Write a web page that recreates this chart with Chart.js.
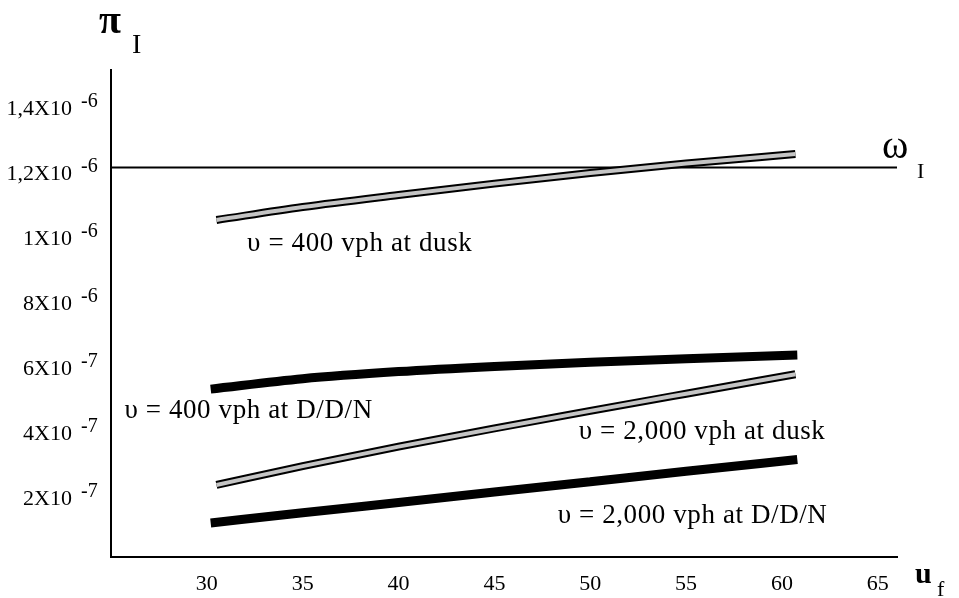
<!DOCTYPE html>
<html>
<head>
<meta charset="utf-8">
<script src="https://cdn.jsdelivr.net/npm/chart.js@4"></script>
<style>
  html, body { margin: 0; padding: 0; background: #fff; }
  canvas { display: block; }
</style>
</head>
<body>
<canvas id="piChart" width="959" height="598"></canvas>
<script>
// u_f values (horizontal axis) where the curves were read
var ufDDN = [30.2, 35, 40, 45, 50, 55, 60.8];
var ufDusk = [30.5, 35, 40, 45, 50, 55, 60.7];

// pi_I for each case
var dusk400 = [1.038e-6, 1.078e-6, 1.115e-6, 1.150e-6, 1.183e-6, 1.212e-6, 1.241e-6];
var ddn400 = [0.517e-6, 0.549e-6, 0.571e-6, 0.587e-6, 0.600e-6, 0.611e-6, 0.622e-6];
var dusk2000 = [0.222e-6, 0.280e-6, 0.340e-6, 0.396e-6, 0.450e-6, 0.503e-6, 0.563e-6];
var ddn2000 = [0.105e-6, 0.136e-6, 0.168e-6, 0.200e-6, 0.232e-6, 0.264e-6, 0.300e-6];

// threshold omega_I
var omegaX = [25, 66];
var omegaI = 1.2e-6;

var xTicks = [30, 35, 40, 45, 50, 55, 60, 65];
var yTickValues = [2e-7, 4e-7, 6e-7, 8e-7, 1e-6, 1.2e-6, 1.4e-6];
var yTickBase = ['2X10', '4X10', '6X10', '8X10', '1X10', '1,2X10', '1,4X10'];
var yTickExp = ['-7', '-7', '-7', '-6', '-6', '-6', '-6'];

function pts(xs, ys) {
    return xs.map(function (x, i) { return { x: x, y: ys[i] }; });
}

var serif = "'Liberation Serif', 'Times New Roman', serif";

// tick labels with exponents, axis symbols and curve captions
var textPlugin = {
    id: 'paperText',
    afterDraw: function (chart) {
        var ctx = chart.ctx;
        var xs = chart.scales.x, ys = chart.scales.y;
        var area = chart.chartArea;
        ctx.save();
        ctx.fillStyle = '#000';

        // y ticks
        yTickValues.forEach(function (v, i) {
            var py = ys.getPixelForValue(v);
            ctx.font = '22px ' + serif;
            ctx.textAlign = 'right';
            ctx.textBaseline = 'alphabetic';
            ctx.fillText(yTickBase[i], area.left - 39, py + 13);
            ctx.font = '20px ' + serif;
            ctx.textAlign = 'left';
            ctx.fillText(yTickExp[i], area.left - 30, py + 5);
        });

        // x ticks
        ctx.font = '22px ' + serif;
        ctx.textAlign = 'center';
        xTicks.forEach(function (t) {
            ctx.fillText(String(t), xs.getPixelForValue(t), area.bottom + 33);
        });

        // pi_I
        ctx.textAlign = 'center';
        ctx.font = 'bold 40px ' + serif;
        ctx.fillText('\u03C0', area.left - 1, area.top - 37);
        ctx.textAlign = 'left';
        ctx.font = '28px ' + serif;
        ctx.fillText('I', area.left + 21, area.top - 17);

        // omega_I
        var oy = ys.getPixelForValue(omegaI);
        ctx.font = '40px ' + serif;
        ctx.fillText('\u03C9', area.right - 15, oy - 9);
        ctx.font = '22px ' + serif;
        ctx.fillText('I', area.right + 20, oy + 11);

        // u_f
        ctx.font = 'bold 30px ' + serif;
        ctx.fillText('u', area.right + 18, area.bottom + 26);
        ctx.font = '22px ' + serif;
        ctx.fillText('f', area.right + 40, area.bottom + 39);

        // curve captions
        ctx.font = '27px ' + serif;
        ctx.letterSpacing = '0.6px';
        ctx.textBaseline = 'middle';
        var captions = [
            ['\u03C5 = 400 vph at dusk', 32.1, 0.964e-6],
            ['\u03C5 = 400 vph at D/D/N', 25.7, 0.45e-6],
            ['\u03C5 = 2,000 vph at dusk', 49.4, 0.385e-6],
            ['\u03C5 = 2,000 vph at D/D/N', 48.3, 0.126e-6]
        ];
        captions.forEach(function (c) {
            ctx.fillText(c[0], xs.getPixelForValue(c[1]), ys.getPixelForValue(c[2]));
        });
        ctx.restore();
    }
};

var bandFill = '#c4c4c4';

var ctx1 = document.getElementById('piChart').getContext('2d');
var piChart = new Chart(ctx1, {
    type: 'line',
    data: {
        datasets: [
            { data: pts(ufDusk, dusk400), borderColor: bandFill, borderWidth: 4, order: 0 },
            { data: pts(ufDusk, dusk400), borderColor: '#000', borderWidth: 8, order: 1 },
            { data: pts(ufDDN, ddn400), borderColor: '#000', borderWidth: 9, order: 1 },
            { data: pts(ufDusk, dusk2000), borderColor: bandFill, borderWidth: 4, order: 0 },
            { data: pts(ufDusk, dusk2000), borderColor: '#000', borderWidth: 8, order: 1 },
            { data: pts(ufDDN, ddn2000), borderColor: '#000', borderWidth: 9, order: 1 },
            { data: pts(omegaX, [omegaI, omegaI]), borderColor: '#000', borderWidth: 2, tension: 0, order: 2 }
        ]
    },
    options: {
        responsive: false,
        animation: false,
        devicePixelRatio: 1,
        layout: { padding: { left: 103, right: 62, top: 70, bottom: 33 } },
        elements: {
            point: { radius: 0 },
            line: { cubicInterpolationMode: 'monotone', borderCapStyle: 'butt', fill: false }
        },
        plugins: {
            legend: { display: false },
            tooltip: { enabled: false }
        },
        scales: {
            x: {
                type: 'linear',
                min: 25,
                max: 66,
                grid: { display: false },
                ticks: { display: false },
                border: { display: true, color: '#000', width: 2 }
            },
            y: {
                type: 'linear',
                min: 0,
                max: 1.5e-6,
                grid: { display: false },
                ticks: { display: false },
                border: { display: true, color: '#000', width: 2 }
            }
        }
    },
    plugins: [textPlugin]
});
</script>
</body>
</html>
